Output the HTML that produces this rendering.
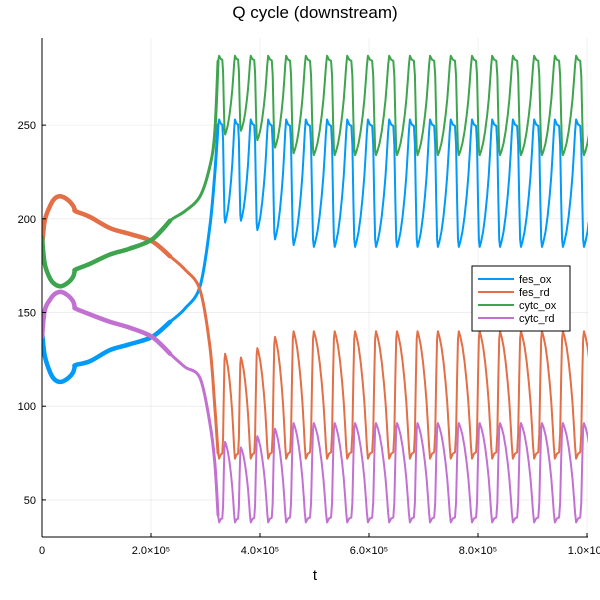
<!DOCTYPE html>
<html><head><meta charset="utf-8">
<style>
body{margin:0;background:#fff;}
svg{display:block;font-family:"Liberation Sans","DejaVu Sans",sans-serif;}
</style></head>
<body>
<svg id="chart" width="600" height="600" viewBox="0 0 600 600">
<rect width="600" height="600" fill="#fff"/>
<text x="315" y="18" text-anchor="middle" font-size="17" fill="#000">Q cycle (downstream)</text>
<defs><clipPath id="plotclip"><rect x="42" y="38" width="546" height="499"/></clipPath></defs>
<g id="grid"></g>
<g id="series" clip-path="url(#plotclip)"></g>
<g id="axes"></g>
<text x="315" y="580" text-anchor="middle" font-size="15" fill="#000">t</text>
<g id="legend"></g>
</svg>
<script>
// ---- data ----
const xTicks = [0, 200000, 400000, 600000, 800000, 1000000];
const xTickLabels = ["0", "2.0×10⁵", "4.0×10⁵", "6.0×10⁵", "8.0×10⁵", "1.0×10⁶"];
const yTicks = [50, 100, 150, 200, 250];
const seriesNames = ["fes_ox", "fes_rd", "cytc_ox", "cytc_rd"];
// early (pre-oscillation) phase, t in thousands
const earlyT = [0,5,15,24,35,48,57,60,62,88,125,160,202,235,262,290,308,317,323];
const earlyFesOx  = [140,127,118,114,113,115,118,121,122,124,130,133,137,145,152,164,196,224,250];
const earlyFesRd  = [185,199,207,211,212,210,207,205,204,201,195,192,188,180,173,162,132,100,75];
const earlyCytcOx = [190,176,168,165,164,166,169,172,173,176,181,184,189,199,204,212,228,246,284];
const earlyCytcRd = [137,151,157,160,161,159,156,153,152,149,145,142,137,128,121,115,91,70,42];
// oscillation cycles: start time (thousands) and high/low levels
const cycleT = [325,354,383,415,448,484,523,560,598,637,675,712,750,789,826,864,903,941,980,1018];
const fesOxHigh  = [253,253,253,253,253,253,253,253,253,253,253,253,253,253,253,253,253,253,253,253];
const fesOxLow   = [198,199,194,189,186,185,185,185,185,185,185,185,185,185,185,185,185,185,185,185];
const fesRdHigh  = [128,126,131,137,140,140,140,140,140,140,140,140,140,140,140,140,140,140,140,140];
const fesRdLow   = [72,72,72,72,72,72,72,72,72,72,72,72,72,72,72,72,72,72,72,72];
const cytcOxHigh = [287,287,287,287,287,287,287,287,287,287,287,287,287,287,287,287,287,287,287,287];
const cytcOxLow  = [245,247,242,238,235,234,234,234,234,234,234,234,234,234,234,234,234,234,234,234];
const cytcRdHigh = [81,78,84,88,91,91,91,91,91,91,91,91,91,91,91,91,91,91,91,91];
const cytcRdLow  = [38,38,38,38,38,38,38,38,38,38,38,38,38,38,38,38,38,38,38,38];

// ---- scales ----
const X0=42, X1=587, Y0=537, Y1=38, YMIN=30.2, YMAX=296.5, XMAX=1000000;
const sx = t => X0 + t/XMAX*(X1-X0);
const sy = v => Y0 - (v-YMIN)/(YMAX-YMIN)*(Y0-Y1);
const NS="http://www.w3.org/2000/svg";
const colors=["#009af9","#e26f46","#3ea44e","#c271d2"];
// cycle waveform shape (fraction of "high" state vs. phase)
const shapeU=[0,0.1,0.2,0.25,0.3,0.34,0.38,0.45,0.55,0.65,0.75,0.83,0.9,0.95,1];
const shapeF=[1,0.96,0.95,0.8,0.35,0.06,0,0.04,0.12,0.24,0.4,0.56,0.75,0.9,1];

function mk(tag,attrs,parent){const e=document.createElementNS(NS,tag);for(const k in attrs)e.setAttribute(k,attrs[k]);parent.appendChild(e);return e;}
function smooth(pts){
  let d='M'+pts[0][0].toFixed(2)+','+pts[0][1].toFixed(2);
  for(let i=0;i<pts.length-1;i++){
    const p0=pts[Math.max(0,i-1)],p1=pts[i],p2=pts[i+1],p3=pts[Math.min(pts.length-1,i+2)];
    const c1x=p1[0]+(p2[0]-p0[0])/6,c1y=p1[1]+(p2[1]-p0[1])/6;
    const c2x=p2[0]-(p3[0]-p1[0])/6,c2y=p2[1]-(p3[1]-p1[1])/6;
    d+='C'+c1x.toFixed(2)+','+c1y.toFixed(2)+' '+c2x.toFixed(2)+','+c2y.toFixed(2)+' '+p2[0].toFixed(2)+','+p2[1].toFixed(2);
  }
  return d;
}

const grid=document.getElementById('grid'), axes=document.getElementById('axes');
xTicks.forEach((t,i)=>{
  const g=mk('line',{x1:sx(t),x2:sx(t),y1:Y1,y2:Y0,stroke:'#000','stroke-opacity':0.1,'stroke-width':0.6},grid);
  
  
  const tk=mk('line',{x1:sx(t),x2:sx(t),y1:Y0,y2:Y0-4,stroke:'#000','stroke-width':1},axes);
  
  
  const lb=mk('text',{x:sx(t),y:Y0+17,'text-anchor':'middle','font-size':11,fill:'#000'},axes);
  lb.textContent=xTickLabels[i];
  
  
});
yTicks.forEach(v=>{
  const g=mk('line',{x1:X0,x2:588,y1:sy(v),y2:sy(v),stroke:'#000','stroke-opacity':0.1,'stroke-width':0.6},grid);
  
  
  const tk=mk('line',{x1:X0,x2:X0+4,y1:sy(v),y2:sy(v),stroke:'#000','stroke-width':1},axes);
  
  
  const lb=mk('text',{x:X0-6,y:sy(v)+4,'text-anchor':'end','font-size':11,fill:'#000'},axes);
  lb.textContent=String(v);
  
  
});
const ax1=mk('line',{x1:X0,x2:X0,y1:Y1,y2:Y0,stroke:'#000','stroke-width':1},axes);


const ax2=mk('line',{x1:X0,x2:588,y1:Y0,y2:Y0,stroke:'#000','stroke-width':1},axes);



const early=[earlyFesOx,earlyFesRd,earlyCytcOx,earlyCytcRd];
const highs=[fesOxHigh,fesRdLow,cytcOxHigh,cytcRdLow];
const lows=[fesOxLow,fesRdHigh,cytcOxLow,cytcRdHigh];
const sg=document.getElementById('series');
seriesNames.forEach((name,s)=>{
  const ptsA=[],ptsB=[];
  earlyT.forEach((t,i)=>{
    const p=[sx(t*1000),sy(early[s][i])];
    if(t<=235) ptsA.push(p);
    if(t>=202) ptsB.push(p);
  });
  const p1=mk('path',{d:smooth(ptsA),fill:'none',stroke:colors[s],'stroke-width':4.5,'stroke-linecap':'round'},sg);
  
  
  const p1b=mk('path',{d:smooth(ptsB),fill:'none',stroke:colors[s],'stroke-width':3,'stroke-linecap':'round'},sg);
  
  
  let d2='M'+sx(earlyT[earlyT.length-1]*1000).toFixed(2)+','+sy(early[s][early[s].length-1]).toFixed(2);
  for(let c=0;c<cycleT.length-1;c++){
    const t0=cycleT[c], t1=cycleT[c+1];
    const hi=highs[s][c], lo=lows[s][c];
    shapeU.forEach((u,k)=>{
      const t=(t0+u*(t1-t0))*1000;
      const v=lo+shapeF[k]*(hi-lo);
      d2+='L'+sx(t).toFixed(2)+','+sy(v).toFixed(2);
    });
  }
  const p2=mk('path',{d:d2,fill:'none',stroke:colors[s],'stroke-width':2,'stroke-linejoin':'round'},sg);
  
  
});

// legend
const lg=document.getElementById('legend');
const box=mk('rect',{x:472,y:266,width:98,height:65,fill:'#fff',stroke:'#000','stroke-width':1},lg);


seriesNames.forEach((name,i)=>{
  const y=279+i*13;
  const l=mk('line',{x1:478,x2:514,y1:y,y2:y,stroke:colors[i],'stroke-width':2},lg);
  
  
  const t=mk('text',{x:519,y:y+4,'font-size':11,fill:'#000'},lg);
  t.textContent=name;
  
  
});
</script>
</body></html>
